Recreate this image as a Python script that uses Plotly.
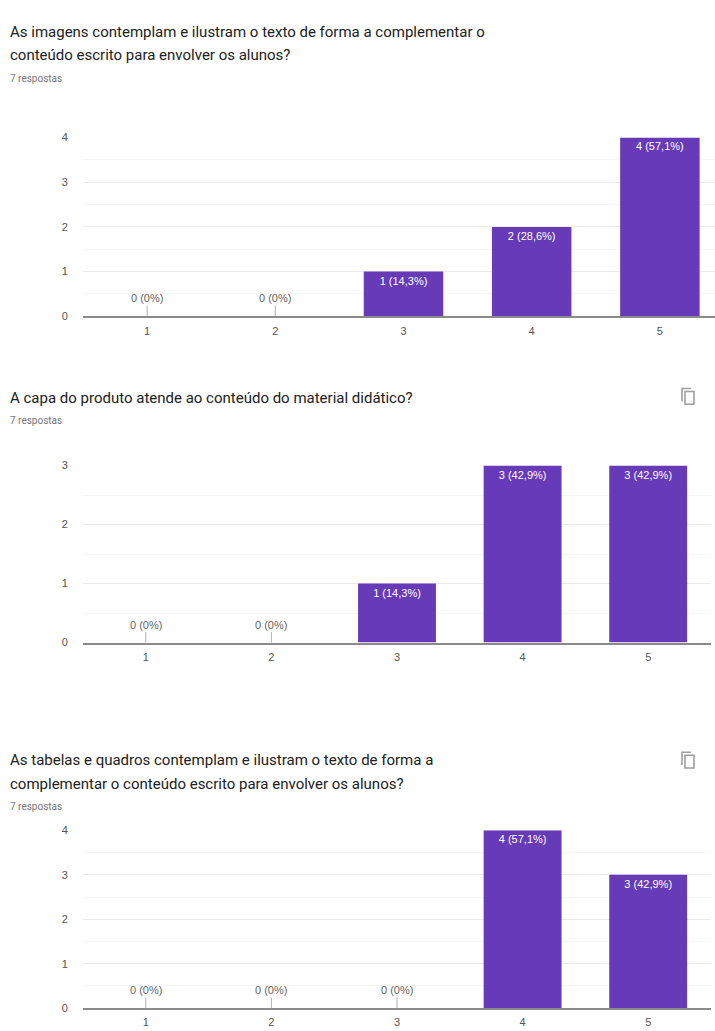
import plotly.graph_objects as go

W, H = 715, 1031

categories = [1, 2, 3, 4, 5]
tick_labels = ["1", "2", "3", "4", "5"]
titles = [
    ["As imagens contemplam e ilustram o texto de forma a complementar o",
     "conteúdo escrito para envolver os alunos?"],
    ["A capa do produto atende ao conteúdo do material didático?"],
    ["As tabelas e quadros contemplam e ilustram o texto de forma a",
     "complementar o conteúdo escrito para envolver os alunos?"],
]
subtitle = "7 respostas"
values_q1 = [0, 0, 1, 2, 4]
values_q2 = [0, 0, 1, 3, 3]
values_q3 = [0, 0, 0, 4, 3]
y_max = [4, 3, 4]

series = [values_q1, values_q2, values_q3]

# layout (pixel positions of each panel)
panels = [
    dict(x0=83, x1=715, xr=[0.5, 5.43], ytop=133, ybot=314, t1=26, sub=73, icon=None),
    dict(x0=83, x1=711, xr=[0.5, 5.5], ytop=465, ybot=644, t1=397, sub=419, icon=395),
    dict(x0=83, x1=711, xr=[0.5, 5.5], ytop=834, ybot=1014, t1=763, sub=810, icon=763),
]
LINE_GAP = 24

PURPLE = "#673ab7"
FONT = "Liberation Sans, Arial, sans-serif"


def px(x):
    return x / W


def py(y):
    return 1 - y / H


def pct_label(v, total):
    if v == 0:
        return f"{v} (0%)"
    p = f"{v / total * 100:.1f}".replace(".", ",")
    return f"{v} ({p}%)"


fig = go.Figure()
annotations = []
shapes = []

for i, (vals, pan) in enumerate(zip(series, panels)):
    n = i + 1
    xa = "x" if n == 1 else f"x{n}"
    ya = "y" if n == 1 else f"y{n}"
    total = sum(vals)
    labels = [pct_label(v, total) if v > 0 else "" for v in vals]
    fig.add_trace(go.Bar(
        x=categories, y=vals, xaxis=xa, yaxis=ya,
        marker=dict(color=PURPLE, line=dict(width=0)),
        width=0.62,
        text=labels, textposition="inside", insidetextanchor="end",
        textfont=dict(color="white", size=11, family=FONT),
        textangle=0, showlegend=False, hoverinfo="skip",
    ))
    for c, v in zip(categories, vals):
        if v == 0:
            annotations.append(dict(
                x=c, y=0, xref=xa, yref=ya, text=pct_label(v, total),
                showarrow=True, arrowhead=0, arrowwidth=1, arrowcolor="#b0b0b0",
                ax=0, ay=-18, standoff=0,
                font=dict(size=11, color="#666666", family=FONT),
            ))
    xkey = "xaxis" if n == 1 else f"xaxis{n}"
    ykey = "yaxis" if n == 1 else f"yaxis{n}"
    fig.update_layout({
        xkey: dict(
            domain=[px(pan["x0"]), px(pan["x1"])], anchor=ya,
            range=pan["xr"], tickvals=categories, ticktext=tick_labels,
            showline=True, linecolor="#8a8a8a", linewidth=2,
            showgrid=False, zeroline=False,
            ticks="outside", ticklen=3, tickcolor="rgba(0,0,0,0)",
            tickfont=dict(size=11, color="#555555", family=FONT),
            fixedrange=True,
        ),
        ykey: dict(
            domain=[py(pan["ybot"]), py(pan["ytop"])], anchor=xa,
            range=[0, y_max[i]], dtick=1,
            showgrid=True, gridcolor="#ebebeb", gridwidth=1,
            minor=dict(dtick=0.5, showgrid=True, gridcolor="#f6f6f6"),
            zeroline=False, showline=False,
            ticks="outside", ticklen=12, tickcolor="rgba(0,0,0,0)",
            tickfont=dict(size=11, color="#555555", family=FONT),
            fixedrange=True,
        ),
    })
    # title lines and subtitle
    for k, line in enumerate(titles[i]):
        annotations.append(dict(
            x=px(8), y=py(pan["t1"] + k * LINE_GAP), xref="paper", yref="paper",
            xanchor="left", yanchor="middle", align="left",
            text=line, showarrow=False,
            font=dict(size=15, color="#212121", family="Roboto, sans-serif"),
        ))
    annotations.append(dict(
        x=px(8), y=py(pan["sub"]), xref="paper", yref="paper",
        xanchor="left", yanchor="middle", text=subtitle, showarrow=False,
        font=dict(size=10, color="#757575", family="Roboto, sans-serif"),
    ))
    if pan["icon"] is not None:
        cy = pan["icon"]
        cx = 688
        # copy icon: back (L-shape) + front rectangle
        shapes.append(dict(type="path", xref="paper", yref="paper",
                           path=f"M {px(cx-6)} {py(cy+5)} L {px(cx-6)} {py(cy-8)} L {px(cx+3)} {py(cy-8)}",
                           line=dict(color="#9e9e9e", width=1.6)))
        shapes.append(dict(type="rect", xref="paper", yref="paper",
                           x0=px(cx-3), x1=px(cx+6), y0=py(cy+8), y1=py(cy-5),
                           line=dict(color="#9e9e9e", width=1.6)))

fig.update_layout(
    width=W, height=H,
    margin=dict(l=0, r=0, t=0, b=0),
    paper_bgcolor="white", plot_bgcolor="white",
    annotations=annotations, shapes=shapes,
    showlegend=False,
)

fig.write_html("out.html", config={"displayModeBar": False},
               post_script="document.body.style.margin='0';document.body.style.padding='0';")
